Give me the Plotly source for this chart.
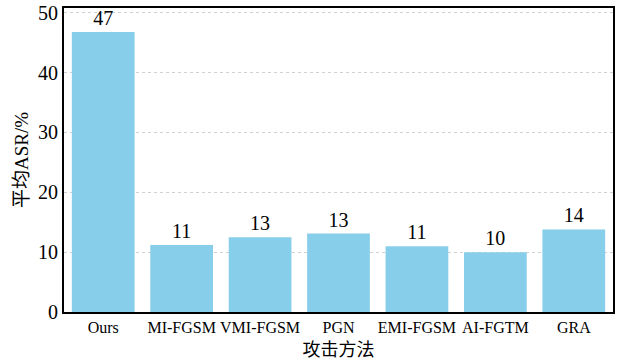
import plotly.graph_objects as go

methods = ["Ours", "MI-FGSM", "VMI-FGSM", "PGN", "EMI-FGSM", "AI-FGTM", "GRA"]
asr = [46.8, 11.2, 12.5, 13.1, 11.0, 10.0, 13.8]
labels = ["47", "11", "13", "13", "11", "10", "14"]

serif = "Liberation Serif, Times New Roman, serif"
cjk = "Liberation Serif, Noto Sans CJK SC, serif"

fig = go.Figure(go.Bar(
    x=methods, y=asr, text=labels, textposition="outside",
    textfont=dict(family=serif, size=20, color="black"),
    marker=dict(color="#87CEEB", line=dict(width=0)),
    width=0.8, cliponaxis=False,
))
fig.update_layout(
    width=620, height=363, margin=dict(l=64, r=7, t=8, b=51),
    plot_bgcolor="white", paper_bgcolor="white",
    font=dict(family=serif, color="black"),
    showlegend=False,
)
fig.update_yaxes(
    range=[0, 50.8], tickvals=[0, 10, 20, 30, 40, 50], automargin=False,
    tickfont=dict(size=20, family=serif), showgrid=True, gridcolor="#d0d0d0", griddash="dot", gridwidth=1,
    showline=True, linecolor="black", linewidth=2, mirror=True, ticks="", zeroline=False,
    title=dict(text="平均ASR/%", font=dict(size=19, family=cjk), standoff=4),
)
fig.update_xaxes(
    tickfont=dict(size=16, family=serif), tickangle=0, showline=True, linecolor="black", linewidth=2, mirror=True,
    ticks="", automargin=False,
    title=dict(text="攻击方法", font=dict(size=18, family=cjk), standoff=8),
)
fig.write_html("out.html")
